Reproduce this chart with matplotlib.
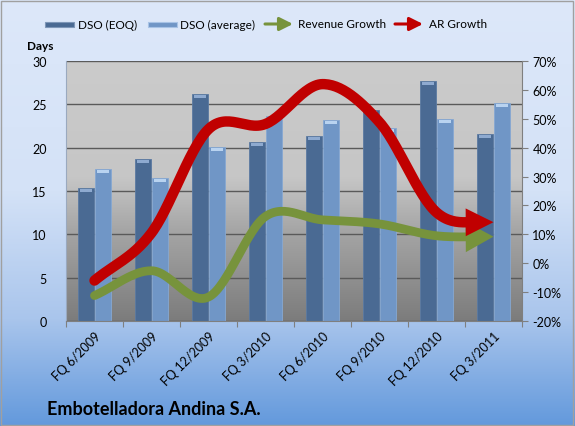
import numpy as np
import matplotlib
matplotlib.use("Agg")
import matplotlib.pyplot as plt
from matplotlib.patches import Rectangle, FancyArrowPatch
from matplotlib.colors import LinearSegmentedColormap

quarters = ["FQ 6/2009", "FQ 9/2009", "FQ 12/2009", "FQ 3/2010",
            "FQ 6/2010", "FQ 9/2010", "FQ 12/2010", "FQ 3/2011"]
dso_eoq = [15.3, 18.7, 26.2, 20.6, 21.3, 24.3, 27.7, 21.6]
dso_avg = [17.5, 16.5, 20.1, 23.6, 23.2, 22.3, 23.3, 25.1]
revenue_growth = [-11.2, -2.6, -11.7, 16.2, 15.0, 13.6, 9.5, 9.2]
ar_growth = [-6.0, 10.5, 46.4, 48.2, 62.0, 48.8, 17.6, 14.2]

plt.rcParams['font.family'] = ['Lato', 'DejaVu Sans']


def smooth(y, n=30):
    # excel-like smoothed line (uniform catmull-rom)
    y = np.asarray(y, float)
    p = np.concatenate([[2 * y[0] - y[1]], y, [2 * y[-1] - y[-2]]])
    xs, ys = [], []
    for i in range(len(y) - 1):
        t = np.linspace(0, 1, n, endpoint=False)
        p0, p1, p2, p3 = p[i], p[i + 1], p[i + 2], p[i + 3]
        yy = 0.5 * ((2 * p1) + (-p0 + p2) * t + (2 * p0 - 5 * p1 + 4 * p2 - p3) * t ** 2
                    + (-p0 + 3 * p1 - 3 * p2 + p3) * t ** 3)
        xs.append(i + t)
        ys.append(yy)
    xs.append([len(y) - 1])
    ys.append([y[-1]])
    return np.concatenate(xs), np.concatenate(ys)


fig = plt.figure(figsize=(5.75, 4.27), dpi=100)

# figure background gradient (top light -> bottom darker blue)
bg = fig.add_axes([0, 0, 1, 1], zorder=-10)
bg_cmap = LinearSegmentedColormap.from_list(
    "bg", [(0, "#dde8fa"), (0.45, "#d4e2f7"), (0.75, "#a9c5ec"), (1, "#6399dc")])
bg.imshow(np.linspace(0, 1, 256).reshape(-1, 1), cmap=bg_cmap, aspect="auto",
          extent=[0, 1, 0, 1])
bg.set_xlim(0, 1)
bg.set_ylim(0, 1)
bg.axis("off")
bg.add_patch(Rectangle((0.002, 0.003), 0.995, 0.993, fill=False, ec="#a0a0a0", lw=1,
                       transform=bg.transAxes))

ax = fig.add_axes([0.1148, 0.2459, 0.7930, 0.6089])
ax2 = ax.twinx()
ax.set_zorder(1)
ax2.set_zorder(2)
ax2.patch.set_visible(False)

pa_cmap = LinearSegmentedColormap.from_list(
    "pa", [(0, "#cbcbcb"), (0.45, "#c6c6c6"), (0.65, "#a6a6a6"), (1, "#7c7c7c")])
ax.imshow(np.linspace(0, 1, 256).reshape(-1, 1), cmap=pa_cmap, aspect="auto",
          extent=[-0.5, 7.5, 0, 30], zorder=0)

x = np.arange(len(quarters))
w = 0.28
ax.bar(x - w / 2 - 0.01, dso_eoq, w, color="#4a6a93", edgecolor="#5b7aa2", lw=0.6, zorder=2)
ax.bar(x + w / 2 + 0.01, dso_avg, w, color="#7096c6", edgecolor="#86a8d2", lw=0.6, zorder=2)
# light caps on bar tops
ax.bar(x - w / 2 - 0.01, 0.35, w * 0.8, bottom=np.array(dso_eoq) - 0.45, color="#8eaad0", zorder=3)
ax.bar(x + w / 2 + 0.01, 0.35, w * 0.8, bottom=np.array(dso_avg) - 0.45, color="#b9d3f0", zorder=3)

ax.set_xlim(-0.5, 7.5)
ax.set_ylim(0, 30)
ax.set_yticks(range(0, 31, 5))
ax.yaxis.grid(True, color="#5a5a5a", lw=1)
for gl in ax.get_ygridlines():
    gl.set_zorder(1)
ax.set_xticks(np.arange(-0.5, 8, 1), minor=False)
ax.set_xticklabels([])
ax.set_xticks(x, minor=True)
ax.set_xticklabels(quarters, minor=True, rotation=45, ha="right", rotation_mode="anchor",
                   fontsize=9)
ax.tick_params(axis="x", which="minor", length=0, pad=6)
ax.tick_params(axis="x", which="major", length=4, color="#7f7f7f")
ax.tick_params(axis="y", length=0, labelsize=9, pad=14)
for s in ["top", "right"]:
    ax.spines[s].set_visible(False)
ax.spines["left"].set_color("#9aa9bf")
ax.spines["bottom"].set_color("#7f7f7f")

ax2.set_ylim(-20, 70)
ax2.set_yticks(range(-20, 71, 10))
ax2.set_yticklabels([f"{v}%" for v in range(-20, 71, 10)], fontsize=9)
ax2.tick_params(axis="y", length=4, color="#7f7f7f")
for s in ["top", "left", "bottom"]:
    ax2.spines[s].set_visible(False)
ax2.spines["right"].set_color("#7f7f7f")


def growth(vals, color, lw, hl, hw):
    xs, ys = smooth(vals)
    cut = xs <= len(vals) - 1 - 0.25
    ax2.plot(xs[cut], ys[cut], color=color, lw=lw, solid_capstyle="round", zorder=5)
    i0 = np.searchsorted(xs, len(vals) - 1 - 0.5)
    ax2.add_patch(FancyArrowPatch((xs[i0], ys[i0]), (xs[-1], ys[-1]),
                                  arrowstyle=f"-|>,head_length={hl},head_width={hw}",
                                  mutation_scale=20, color=color, lw=0,
                                  shrinkA=0, shrinkB=0, zorder=5))


growth(revenue_growth, "#77933c", 6.3, 1.0, 0.55)
growth(ar_growth, "#c00000", 7.5, 1.0, 0.5)

# legend
ly = 1 - 25 / 427
fig.patches.append(Rectangle((45 / 575, ly - 2.5 / 427), 29 / 575, 5 / 427, transform=fig.transFigure,
                             fc="#4a6a93", ec="#7e97b8", lw=0.8))
fig.text(78 / 575, ly, "DSO (EOQ)", fontsize=8.5, va="center")
fig.patches.append(Rectangle((148 / 575, ly - 2.5 / 427), 29 / 575, 5 / 427, transform=fig.transFigure,
                             fc="#7096c6", ec="#a8c3e6", lw=0.8))
fig.text(180 / 575, ly, "DSO (average)", fontsize=8.5, va="center")
fig.patches.append(FancyArrowPatch((265 / 575, ly), (293 / 575, ly), transform=fig.transFigure,
                                   arrowstyle="-|>,head_length=0.4,head_width=0.2",
                                   mutation_scale=20, color="#77933c", lw=2.2,
                                   shrinkA=0, shrinkB=0))
fig.text(298 / 575, ly, "Revenue Growth", fontsize=8.5, va="center")
fig.patches.append(FancyArrowPatch((395 / 575, ly), (423 / 575, ly), transform=fig.transFigure,
                                   arrowstyle="-|>,head_length=0.4,head_width=0.2",
                                   mutation_scale=20, color="#c00000", lw=2.2,
                                   shrinkA=0, shrinkB=0))
fig.text(429 / 575, ly, "AR Growth", fontsize=8.5, va="center")

fig.text(27 / 575, 1 - 47 / 427, "Days", fontsize=8.5, fontweight="bold", va="center")
fig.text(47 / 575, 1 - 410 / 427, "Embotelladora Andina S.A.", fontsize=13,
         fontweight="bold", va="center")

fig.savefig("out.png", dpi=100)
